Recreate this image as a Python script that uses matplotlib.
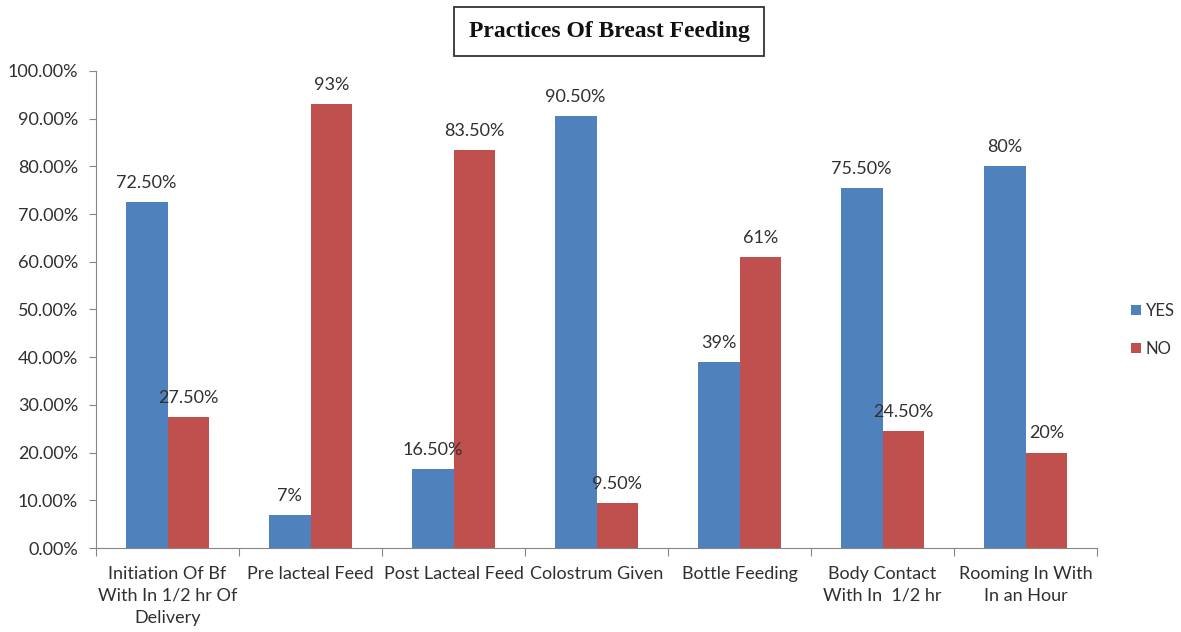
import numpy as np
import matplotlib
matplotlib.use('Agg')
import matplotlib.pyplot as plt
from matplotlib.ticker import FuncFormatter, FixedLocator

categories = ['Initiation Of Bf\nWith In 1/2 hr Of\nDelivery', 'Pre lacteal Feed',
              'Post Lacteal Feed', 'Colostrum Given', 'Bottle Feeding',
              'Body Contact\nWith In  1/2 hr', 'Rooming In With\nIn an Hour']
yes_vals = [72.5, 7, 16.5, 90.5, 39, 75.5, 80]
no_vals = [27.5, 93, 83.5, 9.5, 61, 24.5, 20]
yes_labels = ['72.50%', '7%', '16.50%', '90.50%', '39%', '75.50%', '80%']
no_labels = ['27.50%', '93%', '83.50%', '9.50%', '61%', '24.50%', '20%']

plt.rcParams['font.family'] = ['Lato', 'DejaVu Sans']
grey = '#868686'
txt = '#303030'
fs = 13

fig = plt.figure(figsize=(11.81, 6.32), dpi=100)
ax = fig.add_axes([0.0813, 0.1329, 0.8476, 0.7548])

x = np.arange(len(categories))
w = 0.293
b1 = ax.bar(x - w / 2, yes_vals, w, color='#4F81BD', label='YES')
b2 = ax.bar(x + w / 2, no_vals, w, color='#C0504D', label='NO')

# value labels above each bar
for bars, labs in ((b1, yes_labels), (b2, no_labels)):
    for rect, lab in zip(bars, labs):
        ax.annotate(lab, (rect.get_x() + rect.get_width() / 2, rect.get_height()),
                    xytext=(0, 8), textcoords='offset points',
                    ha='center', va='bottom', fontsize=fs, color=txt)

ax.set_xlim(-0.5, len(categories) - 0.5)
ax.set_ylim(0, 100)
ax.set_yticks(np.arange(0, 101, 10))
ax.yaxis.set_major_formatter(FuncFormatter(lambda v, p: '%.2f%%' % v))
# ticks at category boundaries, labels at centres
ax.xaxis.set_major_locator(FixedLocator(np.arange(-0.5, len(categories), 1)))
ax.xaxis.set_major_formatter(FuncFormatter(lambda v, p: ''))
ax.xaxis.set_minor_locator(FixedLocator(x))
ax.set_xticklabels(categories, minor=True, fontsize=fs, color=txt,
                   linespacing=1.45, va='top')
ax.tick_params(axis='x', which='minor', length=0, pad=13)
ax.tick_params(axis='x', which='major', length=6, color=grey, direction='out')
ax.tick_params(axis='y', length=5, color=grey, labelsize=fs, labelcolor=txt, pad=8)
for s in ('top', 'right'):
    ax.spines[s].set_visible(False)
for s in ('left', 'bottom'):
    ax.spines[s].set_color(grey)

leg = fig.legend(loc='center left', bbox_to_anchor=(0.958, 0.478), frameon=False,
                 borderpad=0, borderaxespad=0,
                 handlelength=0.6, handleheight=0.6, labelspacing=1.3,
                 handletextpad=0.25, fontsize=12)
for t in leg.get_texts():
    t.set_color(txt)

fig.text(0.5157, 0.950, 'Practices Of Breast Feeding', ha='center', va='center',
         fontsize=17, fontweight='bold', family='Liberation Serif', color='#111111',
         bbox=dict(boxstyle='square,pad=0.6', facecolor='white', edgecolor='#333333', lw=1.3))

fig.savefig('out.png', dpi=100)
